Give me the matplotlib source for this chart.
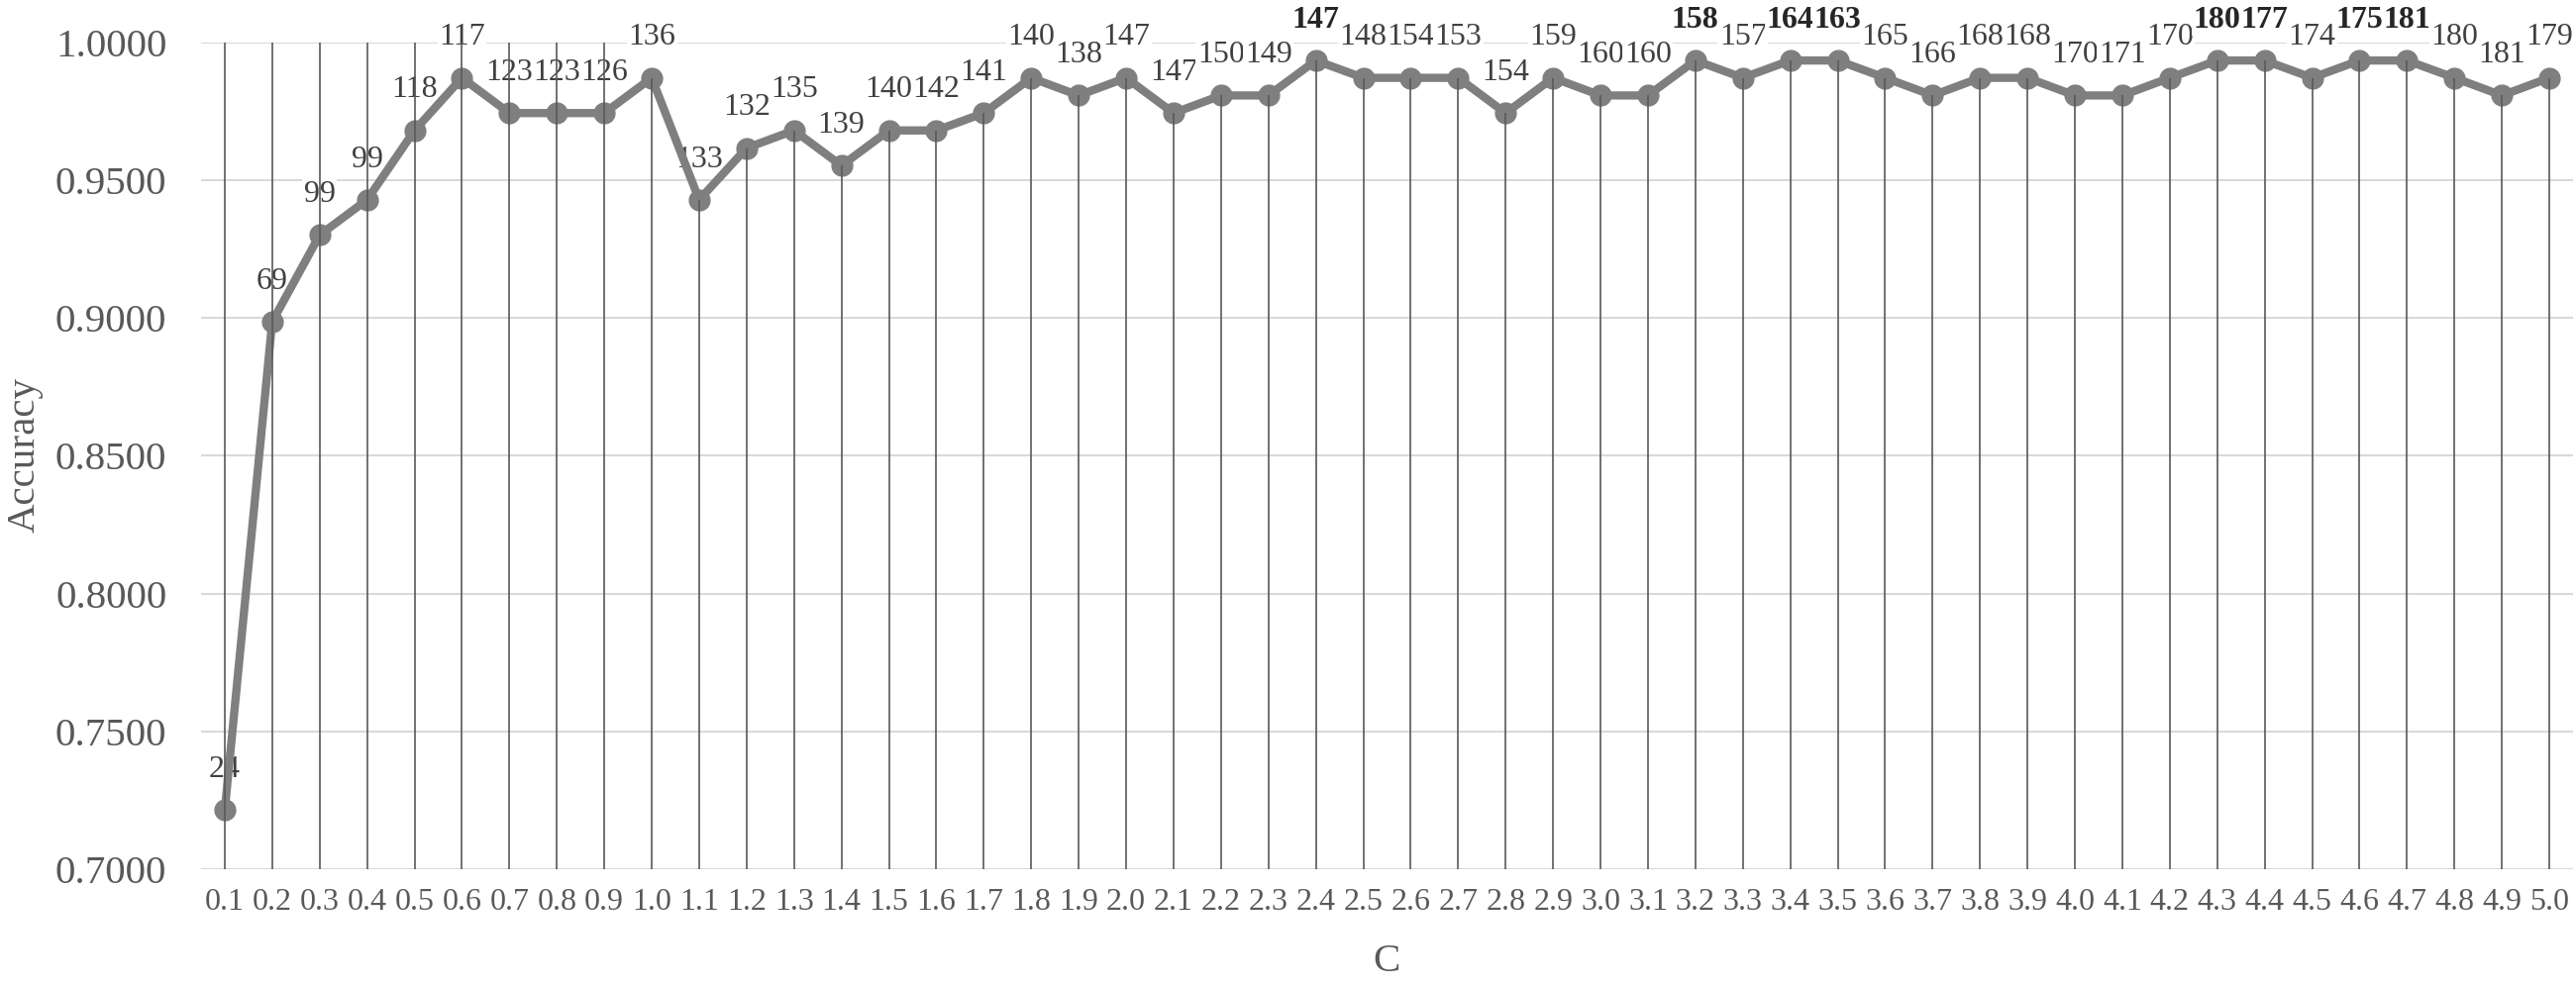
import matplotlib
matplotlib.use("Agg")
import matplotlib.pyplot as plt
from matplotlib.ticker import FuncFormatter, MultipleLocator

plt.rcParams['font.family'] = ['Liberation Serif', 'DejaVu Serif']

# ---- data ----
c_labels = ["0.1", "0.2", "0.3", "0.4", "0.5", "0.6", "0.7", "0.8", "0.9", "1.0",
            "1.1", "1.2", "1.3", "1.4", "1.5", "1.6", "1.7", "1.8", "1.9", "2.0",
            "2.1", "2.2", "2.3", "2.4", "2.5", "2.6", "2.7", "2.8", "2.9", "3.0",
            "3.1", "3.2", "3.3", "3.4", "3.5", "3.6", "3.7", "3.8", "3.9", "4.0",
            "4.1", "4.2", "4.3", "4.4", "4.5", "4.6", "4.7", "4.8", "4.9", "5.0"]
accuracy = [0.7214, 0.8987, 0.9302, 0.9430, 0.9682, 0.9873, 0.9745, 0.9745, 0.9745, 0.9873,
            0.9430, 0.9618, 0.9682, 0.9554, 0.9682, 0.9682, 0.9745, 0.9873, 0.9809, 0.9873,
            0.9745, 0.9809, 0.9809, 0.9936, 0.9873, 0.9873, 0.9873, 0.9745, 0.9873, 0.9809,
            0.9809, 0.9936, 0.9873, 0.9936, 0.9936, 0.9873, 0.9809, 0.9873, 0.9873, 0.9809,
            0.9809, 0.9873, 0.9936, 0.9936, 0.9873, 0.9936, 0.9936, 0.9873, 0.9809, 0.9873]
point_labels = [24, 69, 99, 99, 118, 117, 123, 123, 126, 136,
                133, 132, 135, 139, 140, 142, 141, 140, 138, 147,
                147, 150, 149, 147, 148, 154, 153, 154, 159, 160,
                160, 158, 157, 164, 163, 165, 166, 168, 168, 170,
                171, 170, 180, 177, 174, 175, 181, 180, 181, 179]
full_height_count = 9  # first categories whose vertical lines span the full plot

# ---- figure ----
W, H = 2601, 997
fig = plt.figure(figsize=(W / 100, H / 100), dpi=100)
left, right, top, bottom = 203, 2598, 43.3, 877.7
ax = fig.add_axes([left / W, 1 - bottom / H, (right - left) / W, (bottom - top) / H])

x = list(range(len(c_labels)))
ymin, ymax = 0.70, 1.00
ax.set_xlim(-0.5, len(c_labels) - 0.5)
ax.set_ylim(ymin, ymax)

# horizontal gridlines
ax.yaxis.set_major_locator(MultipleLocator(0.05))
ax.grid(axis='y', color='#d9d9d9', linewidth=1.5, zorder=0)
ax.set_axisbelow(True)
for s in ax.spines.values():
    s.set_visible(False)

# vertical lines
tops = [ymax if i < full_height_count else v for i, v in enumerate(accuracy)]
ax.vlines(x, ymin, tops, colors='#595959', linewidth=1.2, zorder=4)

# series
ax.plot(x, accuracy, color='#7f7f7f', linewidth=6, marker='o', markersize=15,
        markerfacecolor='#7f7f7f', markeredgecolor='#7f7f7f', zorder=3, clip_on=False)

# data labels (white box hides gridlines, drawn beneath the series)
best = max(accuracy)
for xi, v, lab in zip(x, accuracy, point_labels):
    is_best = abs(v - best) < 1e-9
    ax.annotate(str(lab), (xi, v), xytext=(0, 24), textcoords='offset points',
                ha='center', va='baseline', fontsize=23,
                fontweight='bold' if is_best else 'normal',
                color='#262626' if is_best else '#404040',
                bbox=dict(boxstyle='square,pad=0.05', facecolor='white', edgecolor='none'),
                zorder=2.5, annotation_clip=False)

# ticks
ax.set_xticks(x)
ax.set_xticklabels(c_labels)
ax.yaxis.set_major_formatter(FuncFormatter(lambda v, p: f"{v:.4f}"))
ax.tick_params(axis='x', length=0, pad=14, labelsize=23, labelcolor='#595959')
ax.tick_params(axis='y', length=0, pad=25, labelsize=29.5, labelcolor='#595959')

# axis titles
fig.text(25 / W, 1 - 460 / H, 'Accuracy', rotation=90, ha='center', va='center',
         fontsize=29.5, color='#595959')
fig.text(1400 / W, 1 - 971 / H, 'C', ha='center', va='center',
         fontsize=29.5, color='#595959')

fig.savefig('out.png', dpi=100, facecolor='white')
